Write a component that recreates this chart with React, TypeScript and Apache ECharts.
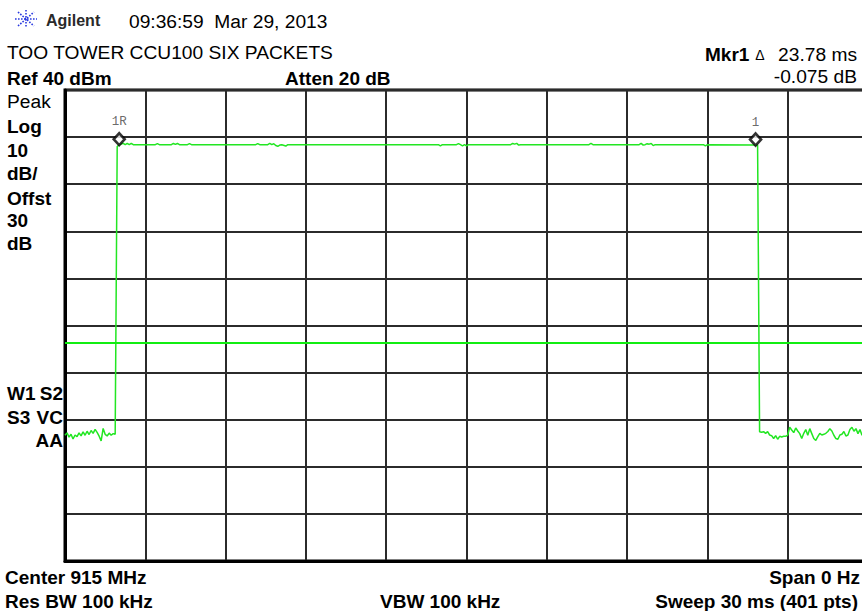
import React, { useEffect, useRef } from "react";
import * as echarts from "echarts";

// ---- data ----
const sweepMs = 30;
const sweepPoints = 401;
const refLevelDbm = 40;
const bottomDbm = -60;
const dbPerDiv = 10;
const timeDivMs = 3;
const displayLineDbm = -13.6;

// noise floor before the burst, point index 0..25
const lowLeftDbm = [
  -33.3, -32.8, -33.7, -33.1, -34.1, -33.25, -33.6, -32.8, -33.45, -32.6,
  -33.3, -32.45, -33.15, -32.3, -32.9, -32.05, -32.7, -33.5, -34.5, -31.85,
  -33.1, -33.45, -32.85, -33.3, -32.95, -33.1,
];

// burst top: [point index, dBm]
const burstDbm: [number, number][] = [
  [26, 28.0], [27, 28.39], [29, 28.68], [30, 28.39], [31, 28.68], [32, 28.39],
  [33, 28.68], [34, 28.39], [45, 28.39], [46, 28.6], [47, 28.39], [53, 28.39],
  [54, 28.65], [55, 28.45], [56, 28.65], [57, 28.39], [61, 28.39], [62, 28.6],
  [63, 28.39], [95, 28.39], [96, 28.62], [97, 28.39], [101, 28.39], [102, 28.65],
  [103, 28.4], [104, 28.6], [105, 28.2], [106, 28.05], [107, 28.3], [108, 28.39],
  [110, 28.1], [111, 28.39], [186, 28.39], [187, 28.12], [188, 28.39], [195, 28.39],
  [196, 28.6], [197, 28.39], [198, 28.15], [199, 28.39], [200, 28.12], [201, 28.39],
  [222, 28.39], [223, 28.65], [224, 28.5], [225, 28.68], [226, 28.3], [227, 28.39],
  [261, 28.39], [262, 28.65], [263, 28.39], [286, 28.39], [287, 28.68], [288, 28.3],
  [289, 28.39], [290, 28.6], [291, 28.5], [292, 28.65], [293, 28.2], [294, 28.39],
  [318, 28.39], [319, 28.12], [320, 28.39], [344, 28.32], [345, 28.3],
];

// noise floor after the burst, point index 346..400
const lowRightStart = 346;
const lowRightDbm = [
  -32.54, -32.68, -32.54, -32.89, -32.54, -33.25, -33.39, -34.0, -33.39, -34.15,
  -33.53, -33.67, -33.53, -33.53, -33.25, -31.6, -32.18, -32.75, -31.75, -32.4,
  -32.95, -34.0, -32.89, -32.1, -33.3, -31.9, -32.95, -34.0, -34.4, -33.6,
  -32.89, -33.25, -33.1, -32.89, -32.5, -31.9, -32.4, -33.3, -34.0, -34.15,
  -33.25, -33.1, -32.5, -33.45, -33.25, -32.1, -31.6, -32.45, -31.9, -32.95,
  -32.1, -33.3, -32.68, -32.9, -33.1,
];

const markerNames = ["1R", "1"];
const markerIndex = [27, 344];
const markerDbm = [28.39, 28.32];

const FONT = "'Liberation Sans', Arial, Helvetica, sans-serif";
const REG = 19.2;
const BOLD = 19;

export default function App() {
  const ref = useRef<HTMLDivElement>(null);

  useEffect(() => {
    if (!ref.current) return;
    const chart = echarts.init(ref.current, undefined, { renderer: "svg" });
    const step = sweepMs / (sweepPoints - 1);

    const trace: [number, number][] = [
      ...lowLeftDbm.map((v, i) => [i * step, v] as [number, number]),
      ...burstDbm.map(([i, v]) => [i * step, v] as [number, number]),
      ...lowRightDbm.map((v, k) => [(lowRightStart + k) * step, v] as [number, number]),
    ];
    const markerData = markerNames.map((n, k) => ({
      name: n,
      value: [markerIndex[k] * step, markerDbm[k]],
    }));

    const txt = (
      text: string,
      x: number,
      y: number,
      size: number,
      bold: boolean,
      align: string = "left",
      fill: string = "#000",
      family: string = FONT
    ) => ({
      type: "text",
      x,
      y,
      silent: true,
      style: {
        text,
        fill,
        align,
        verticalAlign: "middle",
        font: `${bold ? "bold " : ""}${size}px ${family}`,
      },
    });

    const logoColor = "#2a3ae0";
    const logoLine = (x1: number, y1: number, x2: number, y2: number) => ({
      type: "line",
      silent: true,
      shape: { x1, y1, x2, y2 },
      style: { stroke: logoColor, lineWidth: 1.6, lineDash: [1.6, 1.4] },
    });

    chart.setOption({
      animation: false,
      backgroundColor: "#fff",
      grid: {
        left: 65,
        top: 90,
        width: 803,
        height: 471,
        show: true,
        borderColor: "#000",
        borderWidth: 3,
        backgroundColor: "transparent",
      },
      xAxis: {
        type: "value",
        min: 0,
        max: sweepMs,
        interval: timeDivMs,
        axisLine: { show: true, onZero: false, lineStyle: { color: "#000", width: 3 } },
        axisTick: { show: false },
        axisLabel: { show: false },
        splitLine: { show: true, lineStyle: { color: "#2b2b2b", width: 2 } },
      },
      yAxis: {
        type: "value",
        min: bottomDbm,
        max: refLevelDbm,
        interval: dbPerDiv,
        axisLine: { show: true, onZero: false, lineStyle: { color: "#000", width: 3 } },
        axisTick: { show: false },
        axisLabel: { show: false },
        splitLine: { show: true, lineStyle: { color: "#2b2b2b", width: 2 } },
      },
      series: [
        {
          type: "line",
          data: trace,
          showSymbol: false,
          symbol: "none",
          silent: true,
          lineStyle: { color: "#22e622", width: 1.5 },
          z: 3,
          markLine: {
            silent: true,
            symbol: ["none", "none"],
            label: { show: false },
            lineStyle: { color: "#11ee11", width: 2, type: "solid" },
            data: [{ yAxis: displayLineDbm }],
          },
        },
        {
          type: "scatter",
          data: markerData,
          symbol: "diamond",
          symbolSize: [11, 12],
          symbolOffset: [0, -5.5],
          silent: true,
          z: 5,
          itemStyle: { color: "#fff", borderColor: "#000", borderWidth: 2.6 },
          label: {
            show: true,
            formatter: (p: any) => p.name,
            position: "top",
            distance: 3,
            fontFamily: "'Liberation Mono', 'DejaVu Sans Mono', monospace",
            fontSize: 12.5,
            color: "#444",
          },
        },
      ],
      graphic: [
        logoLine(15, 19, 37, 19),
        logoLine(26, 10, 26, 28),
        logoLine(18, 12, 34, 26),
        logoLine(18, 26, 34, 12),
        txt("Agilent", 46, 20, 16, true, "left", "#2a2a2a"),
        txt("09:36:59  Mar 29, 2013", 129, 21, REG, false),
        txt("TOO TOWER CCU100 SIX PACKETS", 7, 52, REG, false),
        txt("Ref 40 dBm", 7, 78, BOLD, true),
        txt("Atten 20 dB", 285, 78, BOLD, true),
        txt("Mkr1", 705, 54, BOLD, true),
        txt("\u0394", 760, 55, 14, false, "center"),
        txt("23.78 ms", 857, 54, REG, false, "right"),
        txt("-0.075 dB", 857, 76, REG, false, "right"),
        txt("Peak", 7, 101, REG, false),
        txt("Log", 7, 126, BOLD, true),
        txt("10", 7, 150, BOLD, true),
        txt("dB/", 7, 173, BOLD, true),
        txt("Offst", 7, 198, BOLD, true),
        txt("30", 7, 220, BOLD, true),
        txt("dB", 7, 243, BOLD, true),
        txt("W1", 7, 393, BOLD, true),
        txt("S2", 63, 393, BOLD, true, "right"),
        txt("S3", 7, 417, BOLD, true),
        txt("VC", 63, 417, BOLD, true, "right"),
        txt("AA", 63, 440, BOLD, true, "right"),
        txt("Center 915 MHz", 5, 577, BOLD, true),
        txt("Span 0 Hz", 860, 577, BOLD, true, "right"),
        txt("Res BW 100 kHz", 5, 601, BOLD, true),
        txt("VBW 100 kHz", 380, 601, BOLD, true),
        txt("Sweep 30 ms (401 pts)", 858, 601, BOLD, true, "right"),
      ],
    });

    return () => chart.dispose();
  }, []);

  return (
    <div
      style={{
        position: "absolute",
        left: 0,
        top: 0,
        width: 862,
        height: 611,
        overflow: "hidden",
        background: "#fff",
      }}
    >
      <div ref={ref} style={{ width: 880, height: 611 }} />
    </div>
  );
}
